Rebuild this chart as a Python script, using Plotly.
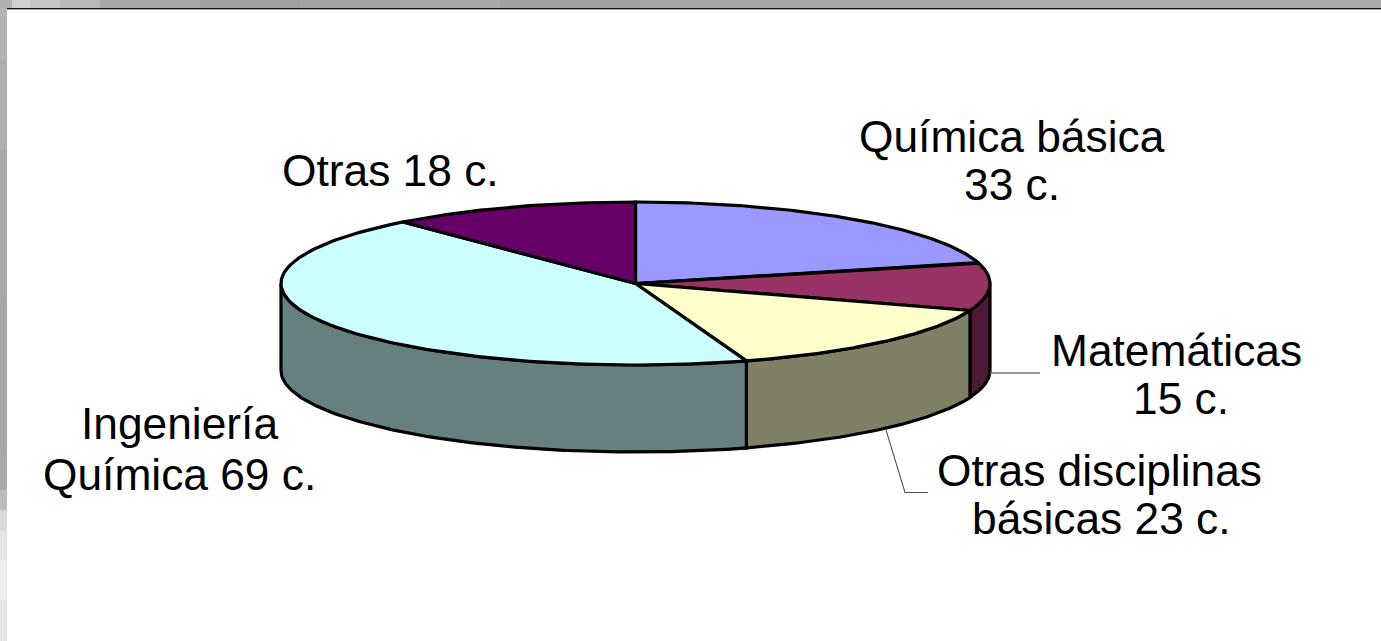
import numpy as np
import plotly.graph_objects as go

# ---- data ----
categories = ["Química básica", "Matemáticas", "Otras disciplinas básicas", "Ingeniería Química", "Otras"]
credits = [33, 15, 23, 69, 18]
top_colors = ["#9999FF", "#993366", "#FFFFCC", "#CCFFFF", "#660066"]
side_colors = ["#4D4D80", "#4D1933", "#808066", "#668080", "#330033"]
label_lines = [
    ["Química básica", "33 c."],
    ["Matemáticas", "15 c."],
    ["Otras disciplinas", "básicas 23 c."],
    ["Ingeniería", "Química 69 c."],
    ["Otras 18 c."],
]
label_pos = [
    [(1012, 136), (1012, 184)],
    [(1176, 350), (1181, 398)],
    [(1099, 470), (1101, 518)],
    [(179, 423), (179, 474)],
    [(390, 170)],
]

# ---- geometry of the projected disc ----
CX, CY, RX, RY, DEPTH = 635.5, 283.5, 354.5, 81.5, 87
W, H = 1381, 641
FONT = "Liberation Sans, Arial, sans-serif"
FS = 44.3


def rim(a0, a1, n=160):
    t = np.radians(np.linspace(a0, a1, n))
    return CX + RX * np.sin(t), CY - RY * np.cos(t)


edges = np.concatenate([[0], np.cumsum(credits)]) / sum(credits) * 360
fig = go.Figure()
line = dict(color="black", width=3.2)

# outer walls: only the front half of the disc (90..270 deg) is visible
for i, name in enumerate(categories):
    a0, a1 = max(edges[i], 90), min(edges[i + 1], 270)
    if a1 <= a0:
        continue
    x, y = rim(a0, a1)
    fig.add_trace(go.Scatter(
        x=np.r_[x, x[::-1], x[0]], y=np.r_[y, y[::-1] + DEPTH, y[0]],
        mode="lines", fill="toself", fillcolor=side_colors[i], line=line,
        hoverinfo="skip", showlegend=False))

# top face slices
for i, name in enumerate(categories):
    x, y = rim(edges[i], edges[i + 1])
    fig.add_trace(go.Scatter(
        x=np.r_[CX, x, CX], y=np.r_[CY, y, CY],
        mode="lines", fill="toself", fillcolor=top_colors[i], line=line,
        name=name, hoverinfo="name", showlegend=False))

# leader lines
fig.add_trace(go.Scatter(x=[990, 1040], y=[373, 373], mode="lines",
                         line=dict(color="#777777", width=1.3), hoverinfo="skip", showlegend=False))
fig.add_trace(go.Scatter(x=[886, 905, 928], y=[430, 492.5, 492.5], mode="lines",
                         line=dict(color="#555555", width=1.1), hoverinfo="skip", showlegend=False))

# labels
annotations = []
for lines, pos in zip(label_lines, label_pos):
    for s, (px, py) in zip(lines, pos):
        annotations.append(dict(x=px, y=py, xref="x", yref="y", text=s, showarrow=False,
                                xanchor="center", yanchor="middle",
                                font=dict(family=FONT, size=FS, color="black")))

# slide frame (textured grey strip at the top and on the left)
shapes = []
top_x = [0, 12, 30, 60, 100, 200, 300, 400, 500, 640, 800, 1000, 1200, 1381]
top_c = ["#b0b0b0", "#d0d0d0", "#c8c8c8", "#b8b8b8", "#a8a8a8", "#a0a0a0", "#a4a4a4",
         "#a8a8a8", "#a2a2a2", "#a6a6a6", "#a8a8a8", "#acacac", "#aaaaaa"]
for x0, x1, c in zip(top_x[:-1], top_x[1:], top_c):
    shapes.append(dict(type="rect", xref="x", yref="y", x0=x0, x1=x1, y0=0, y1=8,
                       fillcolor=c, line_width=0, layer="below"))
left_y = [8, 60, 150, 300, 450, 490, 510, 530, 560, 600, 641]
left_c = ["#b4b4b4", "#adadad", "#a8a8a8", "#a6a6a6", "#a8a8a8", "#bcbcbc", "#d8d8d8",
          "#e4e4e4", "#eeeeee", "#e6e6e6"]
for y0, y1, c in zip(left_y[:-1], left_y[1:], left_c):
    shapes.append(dict(type="rect", xref="x", yref="y", x0=0, x1=7, y0=y0, y1=y1,
                       fillcolor=c, line_width=0, layer="below"))
shapes.append(dict(type="rect", xref="x", yref="y", x0=7, x1=W, y0=8, y1=9,
                   fillcolor="#111111", line_width=0, layer="below"))
shapes.append(dict(type="rect", xref="x", yref="y", x0=7, x1=W, y0=9, y1=10,
                   fillcolor="#aaaaaa", line_width=0, layer="below"))

fig.update_layout(
    width=W, height=H, margin=dict(l=0, r=0, t=0, b=0),
    paper_bgcolor="white", plot_bgcolor="white", showlegend=False,
    xaxis=dict(range=[0, W], visible=False, fixedrange=True),
    yaxis=dict(range=[H, 0], visible=False, fixedrange=True),
    annotations=annotations, shapes=shapes,
)
fig.write_html("out.html", config={"displayModeBar": False},
               post_script="document.body.style.margin='0';document.body.style.overflow='hidden';")
